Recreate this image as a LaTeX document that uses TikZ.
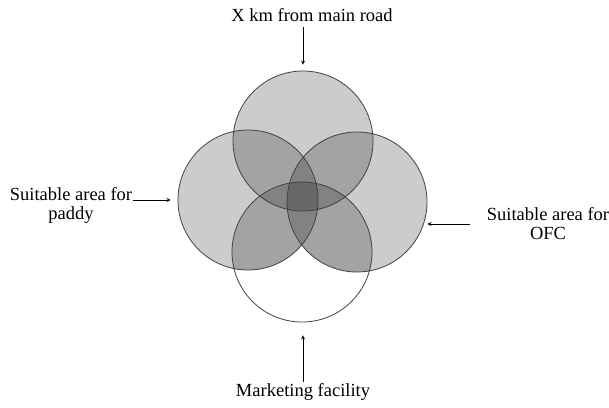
\documentclass[tikz,border=0pt]{standalone}
\usepackage{fontspec}
\setmainfont{Liberation Serif}
\usetikzlibrary{arrows}

\tikzstyle{zone} = [circle, minimum size=140pt, inner sep=0pt, draw=black!75, line width=0.8pt]
\tikzstyle{tint} = [fill=black, fill opacity=0.2]
\tikzstyle{caption} = [align=center, inner sep=1pt, font=\fontsize{18.5}{19}\selectfont]
\tikzstyle{arrow} = [line width=0.8pt,->,>=stealth]

\begin{document}
\begin{tikzpicture}[x=1pt,y=-1pt]
\useasboundingbox (0,0) rectangle (609,407);

% centres of the four areas
\coordinate (c1) at (303,141);
\coordinate (c2) at (248,200);
\coordinate (c3) at (357,202);
\coordinate (c4) at (302,252);

% shading
\fill [tint] (c1) circle (70pt);
\fill [tint] (c2) circle (70pt);
\fill [tint] (c3) circle (70pt);
\begin{scope}
\clip (c4) circle (70pt);
\fill [tint] (c1) circle (70pt) (c2) circle (70pt) (c3) circle (70pt);
\end{scope}

\node (top) [zone] at (c1) {};
\node (left) [zone] at (c2) {};
\node (right) [zone] at (c3) {};
\node (bottom) [zone] at (c4) {};

\node (road) [caption] at (312,15) {X km from main road};
\node (paddy) [caption] at (71,205) {Suitable area for\\paddy};
\node (ofc) [caption] at (548,224) {Suitable area for\\OFC};
\node (market) [caption] at (303,392) {Marketing facility};

\draw [arrow, shorten <=4pt, shorten >=6pt] (road.south -| top.north) -- (top.north);
\draw [arrow, shorten >=7pt] (paddy.north east |- left.west) -- (left.west);
\draw [arrow, shorten <=16pt] (ofc.west) -- (ofc.west -| right.east);
\draw [arrow, shorten >=13pt] (market.north) -- (market.north |- bottom.south);

\end{tikzpicture}
\end{document}
